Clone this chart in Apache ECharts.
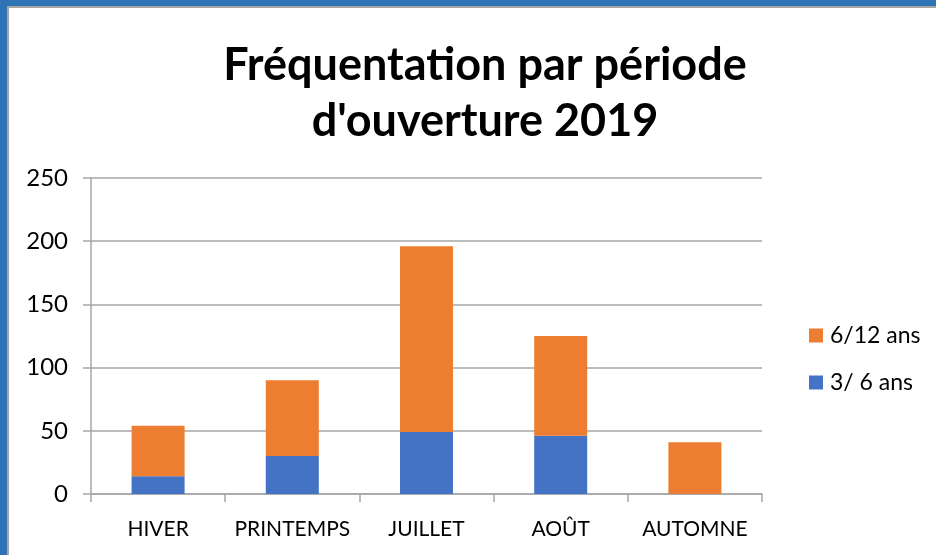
<!DOCTYPE html>
<html>
<head>
<meta charset="utf-8">
<script src="https://cdn.jsdelivr.net/npm/echarts@6/dist/echarts.min.js"></script>
<style>
  html, body { margin: 0; padding: 0; background: #ffffff; }
  #chart { width: 936px; height: 555px; }
</style>
</head>
<body>
<div id="chart"></div>
<script>
// Opening periods and attendance per age group (stacked)
const periods = ['HIVER', 'PRINTEMPS', 'JUILLET', 'AOÛT', 'AUTOMNE'];
const kids3to6 = [14, 30, 49, 46, 0];
const kids6to12 = [40, 60, 147, 79, 41];
const seriesNames = ['3/ 6 ans', '6/12 ans'];
const yTicks = { min: 0, max: 250, interval: 50 };

const FONT = 'Lato, "Open Sans", sans-serif';
const chart = echarts.init(document.getElementById('chart'), null, { renderer: 'canvas' });

chart.setOption({
  backgroundColor: '#ffffff',
  animation: false,
  graphic: [
    // blue frame around the chart area
    { type: 'rect', z: -10, shape: { x: 0, y: 0, width: 936, height: 555 }, style: { fill: '#2E74B5' } },
    { type: 'rect', z: -9, shape: { x: 8, y: 7, width: 940, height: 560 }, style: { fill: '#ffffff', stroke: '#a6a6a6', lineWidth: 2 } }
  ],
  title: {
    text: 'Fréquentation par période\nd\'ouverture 2019',
    left: 480, top: 32, textAlign: 'center',
    textStyle: { fontFamily: FONT, fontWeight: 'bold', fontSize: 45, lineHeight: 56, color: '#000000' }
  },
  legend: {
    orient: 'vertical',
    left: 804, top: 319,
    itemWidth: 14, itemHeight: 14, itemGap: 24,
    icon: 'rect',
    data: [seriesNames[1], seriesNames[0]],
    textStyle: { fontFamily: FONT, fontSize: 23, color: '#000000', padding: [0, 0, 0, 2] }
  },
  grid: { left: 91, right: 174, top: 178, bottom: 61, containLabel: false },
  xAxis: {
    type: 'category',
    data: periods,
    axisLine: { show: true, lineStyle: { color: '#a6a6a6', width: 1.5 } },
    axisTick: { show: true, length: 8, alignWithLabel: false, lineStyle: { color: '#a6a6a6', width: 1.5 } },
    axisLabel: { interval: 0, hideOverlap: false, fontFamily: FONT, fontSize: 21, color: '#000000', margin: 25 }
  },
  yAxis: {
    type: 'value',
    min: yTicks.min, max: yTicks.max, interval: yTicks.interval,
    axisLine: { show: true, lineStyle: { color: '#a6a6a6', width: 1.5 } },
    axisTick: { show: true, length: 8, lineStyle: { color: '#a6a6a6', width: 1.5 } },
    splitLine: { show: true, lineStyle: { color: '#a6a6a6', width: 1.5 } },
    axisLabel: { fontFamily: FONT, fontSize: 24, color: '#000000', margin: 23 }
  },
  series: [
    {
      name: seriesNames[0], type: 'bar', stack: 'total', barWidth: 53,
      itemStyle: { color: '#4472C4' },
      data: kids3to6
    },
    {
      name: seriesNames[1], type: 'bar', stack: 'total', barWidth: 53,
      itemStyle: { color: '#ED7D31' },
      data: kids6to12
    }
  ]
});
</script>
</body>
</html>
